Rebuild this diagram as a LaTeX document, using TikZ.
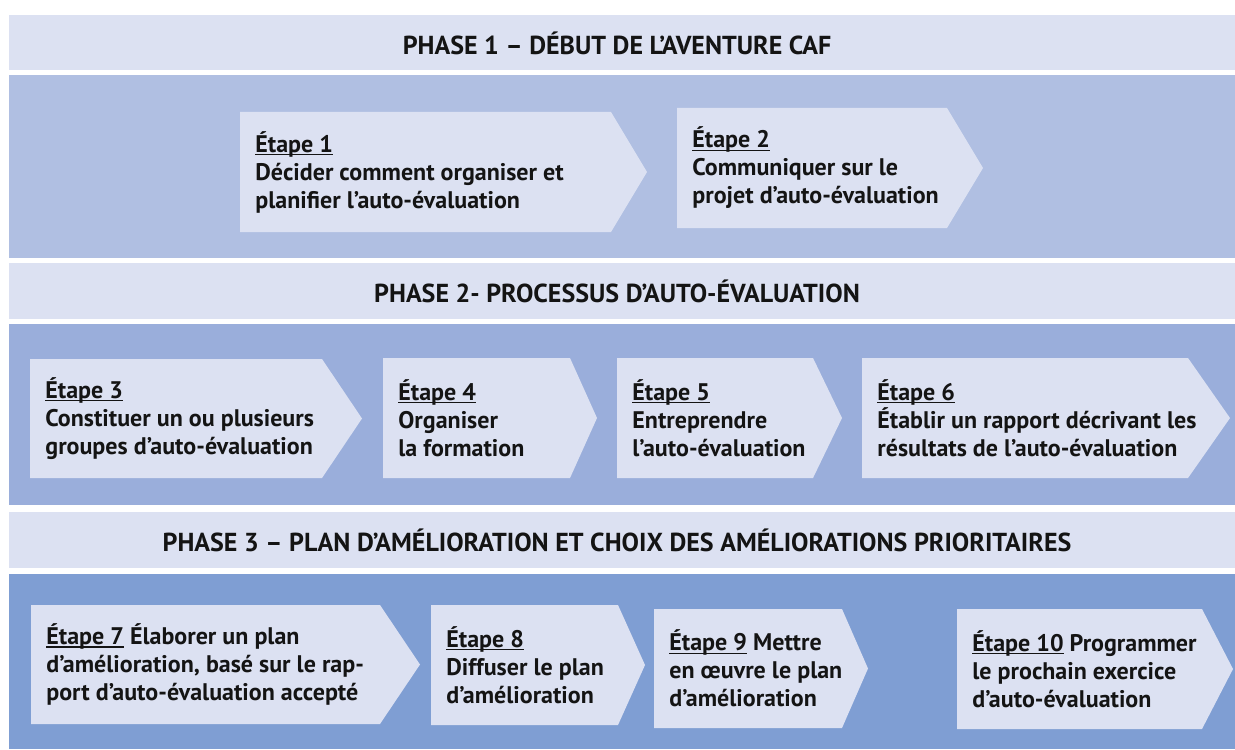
\documentclass[tikz,border=0pt]{standalone}
\usepackage{fontspec}
\setmainfont{PT Sans}

\definecolor{headfill}{HTML}{DCE1F2}
\definecolor{bandone}{HTML}{B0BFE2}
\definecolor{bandtwo}{HTML}{9AAEDB}
\definecolor{bandthree}{HTML}{7F9ED3}
\definecolor{stepfill}{HTML}{DCE1F2}
\definecolor{inkblack}{HTML}{141414}

% underlined step number, line just under the baseline
\newsavebox{\stepnumbox}
\newcommand{\stepul}[1]{\sbox{\stepnumbox}{#1}\rlap{\rule[-1.5pt]{\wd\stepnumbox}{0.55pt}}\usebox{\stepnumbox}}

% one step of a phase: name, left, top, right, bottom, tip, text
\newcommand{\etape}[7]{%
  \fill[step shape] (#2,#3) -- (#4,#3) -- (#6,{(#3+#5)/2}) -- (#4,#5) -- (#2,#5) -- cycle;
  \node[step text] (#1) at (#2+15,{(#3+#5)/2}) {#7};
}

\begin{document}
\begin{tikzpicture}[
        %We set the units (one unit is one pixel) and define some styles
        x=0.5pt, y=-0.5pt,
        step shape/.style={fill=stepfill},
        step text/.style={anchor=west, align=left, inner sep=0pt, text=inkblack,
            font=\bfseries\fontsize{12}{14}\selectfont},
        head text/.style={inner sep=0pt, text=inkblack,
            font=\bfseries\fontsize{13}{15}\selectfont},
    ]
    \useasboundingbox (0,0) rectangle (1235,749);

    % Phase 1
    \fill[headfill] (9,15) rectangle (1235,70);
    \node[head text] (phase1) at (617,43) {PHASE 1 – DÉBUT DE L’AVENTURE CAF};
    \fill[bandone] (9,75) rectangle (1235,258);
    \etape{etape1}{240}{112}{611}{232}{647}{\stepul{Étape 1}\\Décider comment organiser et\\planifier l’auto-évaluation}
    \etape{etape2}{677}{108}{947}{228}{983}{\stepul{Étape 2}\\Communiquer sur le\\projet d’auto-évaluation}

    % Phase 2
    \fill[headfill] (9,263) rectangle (1235,319);
    \node[head text] (phase2) at (617,291) {PHASE 2- PROCESSUS D’AUTO-ÉVALUATION};
    \fill[bandtwo] (9,324) rectangle (1235,505);
    \etape{etape3}{30}{359}{322}{478}{362}{\stepul{Étape 3}\\Constituer un ou plusieurs\\groupes d’auto-évaluation}
    \etape{etape4}{383}{358}{570}{478}{597}{\stepul{Étape 4}\\Organiser\\la formation}
    \etape{etape5}{617}{358}{813}{478}{842}{\stepul{Étape 5}\\Entreprendre\\l’auto-évaluation}
    \etape{etape6}{862}{358}{1188}{478}{1230}{\stepul{Étape 6}\\Établir un rapport décrivant les\\résultats de l’auto-évaluation}

    % Phase 3
    \fill[headfill] (9,512) rectangle (1235,568);
    \node[head text] (phase3) at (617,540) {PHASE 3 – PLAN D’AMÉLIORATION ET CHOIX DES AMÉLIORATIONS PRIORITAIRES};
    \fill[bandthree] (9,574) rectangle (1235,749);
    \etape{etape7}{31}{605}{380}{724}{420}{\stepul{Étape 7} Élaborer un plan\\d’amélioration, basé sur le rap-\\port d’auto-évaluation accepté}
    \etape{etape8}{431}{605}{618}{725}{645}{\stepul{Étape 8}\\Diffuser le plan\\d’amélioration}
    \etape{etape9}{654}{609}{842}{728}{868}{\stepul{Étape 9} Mettre\\en œuvre le plan\\d’amélioration}
    \etape{etape10}{957}{609}{1202}{729}{1233}{\stepul{Étape 10} Programmer\\le prochain exercice\\d’auto-évaluation}
\end{tikzpicture}
\end{document}
